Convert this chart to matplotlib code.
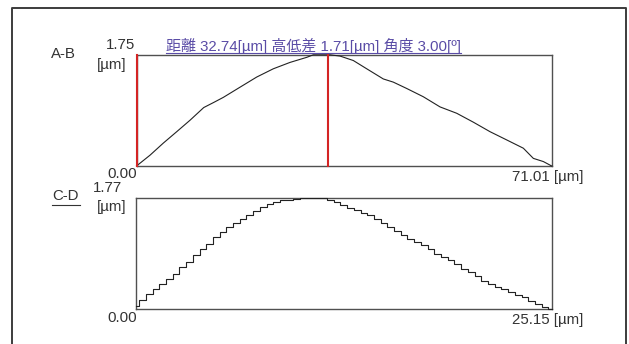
import numpy as np
import matplotlib
matplotlib.use("Agg")
import matplotlib.pyplot as plt
from matplotlib.lines import Line2D

# ---------------- data ----------------
ab_length = 71.01
ab_ymax = 1.75
ab_x = [0.00, 2.31, 4.58, 6.88, 9.15, 11.50, 13.20, 14.85, 17.70, 20.56, 23.40, 26.25,
        29.11, 30.24, 33.10, 34.81, 37.08, 39.37, 42.21, 43.92, 46.21, 49.05,
        51.91, 54.76, 57.60, 60.46, 63.32, 66.16, 67.87, 69.58, 71.01]
ab_y = [0.00, 0.17, 0.36, 0.54, 0.72, 0.92, 1.00, 1.08, 1.24, 1.40, 1.53, 1.63,
        1.71, 1.75, 1.75, 1.73, 1.66, 1.53, 1.37, 1.32, 1.22, 1.09,
        0.93, 0.83, 0.69, 0.54, 0.41, 0.28, 0.12, 0.07, 0.00]
cursor_a = 0.0
cursor_b = 32.74

cd_length = 25.15
cd_ymax = 1.77
cd_y = [0.05, 0.15, 0.24, 0.32, 0.40, 0.49, 0.57, 0.67, 0.76, 0.86,
        0.96, 1.05, 1.15, 1.23, 1.31, 1.38, 1.44, 1.51, 1.57, 1.64,
        1.68, 1.71, 1.74, 1.75, 1.76, 1.77, 1.77, 1.77, 1.77, 1.75,
        1.72, 1.67, 1.62, 1.58, 1.54, 1.50, 1.44, 1.38, 1.32, 1.25,
        1.19, 1.13, 1.08, 1.02, 0.96, 0.89, 0.83, 0.78, 0.72, 0.65,
        0.59, 0.53, 0.46, 0.40, 0.36, 0.32, 0.28, 0.23, 0.19, 0.14,
        0.08, 0.04, 0.00]

title_text = "距離 32.74[µm] 高低差 1.71[µm] 角度 3.00[º]"
ab_label = "A-B"
cd_label = "C-D"
unit = "[µm]"

# ---------------- figure ----------------
W, H = 629, 344
fig = plt.figure(figsize=(W / 100, H / 100), dpi=100)
fig.patch.set_facecolor("white")

def fx(x):
    return x / W

def fy(y):
    return 1 - y / H

LAT = ["Liberation Sans", "DejaVu Sans"]
MIX = ["Liberation Sans", "Noto Sans CJK JP", "DejaVu Sans"]
FS = 10.8
TXT = "#333333"
PURPLE = "#5a4ca6"
SPINE = "#505050"

# outer frame (left, top, right; bottom lies outside the picture)
fig.add_artist(Line2D([fx(12), fx(12), fx(626), fx(626)],
                      [fy(350), fy(8), fy(8), fy(350)],
                      transform=fig.transFigure, color="#3c3c3c", linewidth=1.4))

def make_axes(l, r, t, b):
    ax = fig.add_axes([fx(l), fy(b), fx(r) - fx(l), fy(t) - fy(b)])
    ax.set_xticks([])
    ax.set_yticks([])
    for s in ax.spines.values():
        s.set_color(SPINE)
        s.set_linewidth(1.0)
    return ax

# top profile A-B
ax1 = make_axes(136.5, 551.7, 54.8, 166)
ax1.set_xlim(0, ab_length)
ax1.set_ylim(0, ab_ymax)
for c in (cursor_a, cursor_b):
    ax1.axvline(c, color="#d42424", linewidth=1.5, zorder=5, clip_on=False)
ax1.plot(ab_x, ab_y, color="#222222", linewidth=0.8, clip_on=False, zorder=4)

# bottom profile C-D
ax2 = make_axes(135.8, 551.7, 198.5, 309.3)
ax2.set_xlim(0, cd_length)
ax2.set_ylim(0, cd_ymax)
cd_x = np.linspace(0, cd_length, len(cd_y))
ax2.plot(cd_x, cd_y, color="#222222", linewidth=0.8, drawstyle="steps-mid",
         clip_on=False, zorder=4)

def t(x, y, s, ha="left", va="center", color=TXT, fam=LAT, size=FS):
    fig.text(fx(x), fy(y), s, ha=ha, va=va, color=color, family=fam, fontsize=size)

# labels for A-B
t(51, 54, ab_label)
t(135, 45, f"{ab_ymax:.2f}", ha="right")
t(127, 65.5, unit, ha="right")
t(137, 174, "0.00", ha="right")
t(583, 177, f"{ab_length:.2f} {unit}", ha="right")
t(166, 51.5, title_text, va="baseline", color=PURPLE, fam=MIX)
fig.add_artist(Line2D([fx(166), fx(461)], [fy(53.3), fy(53.3)],
                      transform=fig.transFigure, color=PURPLE, linewidth=0.8))

# labels for C-D
t(52, 196.5, cd_label)
fig.add_artist(Line2D([fx(52), fx(80)], [fy(205.5), fy(205.5)],
                      transform=fig.transFigure, color=TXT, linewidth=0.8))
t(122, 188, f"{cd_ymax:.2f}", ha="right")
t(127, 207.5, unit, ha="right")
t(137, 317.5, "0.00", ha="right")
t(583, 320, f"{cd_length:.2f} {unit}", ha="right")

fig.savefig("out.png", dpi=100, facecolor="white")
